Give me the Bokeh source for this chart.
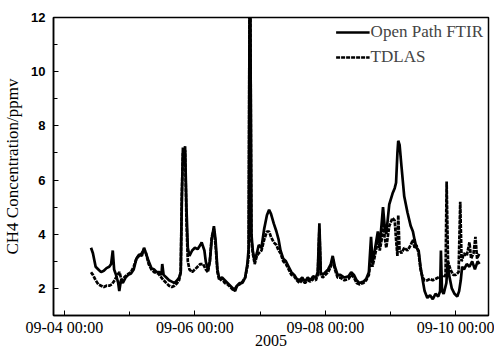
import pandas as pd
from bokeh.plotting import figure
from bokeh.models import FixedTicker, DatetimeTickFormatter, Range1d, Legend, LegendItem
from bokeh.embed import file_html
from bokeh.resources import INLINE

# hours after 2005-09-04 00:00
ftir_hours = [9.8, 10.5, 11.5, 12.5, 13.5, 14.5, 15.5, 16.5, 17.2, 17.8, 18.3, 19.0, 19.8, 20.2, 20.8,
              21.5, 22.5, 23.5, 24.5, 25.5, 26.5, 27.5, 28.5, 29.3, 30.0, 31.0, 32.0, 33.0, 34.0, 35.0,
              35.7, 36.0, 36.5, 37.5, 38.5, 39.5, 40.5, 41.5, 42.2, 42.8, 43.2, 43.6, 44.0, 44.4, 44.9,
              45.4, 46.0, 47.0, 48.0, 49.0, 50.0, 50.5, 51.5, 52.0, 52.8, 53.5, 54.2, 55.0, 55.6, 56.3,
              57.0, 58.0, 59.0, 60.0, 61.0, 62.0, 62.8, 63.5, 64.5, 65.5, 66.5, 67.3, 67.8, 68.1, 68.4,
              68.8, 69.3, 70.0, 70.8, 71.5, 72.5, 73.5, 74.5, 75.3, 76.0, 77.0, 78.0, 78.8, 79.5, 80.5,
              81.5, 82.5, 83.5, 84.5, 85.5, 86.5, 87.5, 88.5, 89.5, 90.5, 91.5, 92.5, 93.2, 93.8, 94.3,
              95.0, 96.0, 97.0, 98.0, 98.7, 99.5, 100.5, 101.5, 103.0, 104.5, 105.5, 106.5, 107.5, 108.5,
              110.0, 111.0, 112.0, 112.8, 113.3, 114.0, 114.8, 115.3, 116.0, 116.7, 117.2, 117.8, 118.4,
              119.5, 120.7, 121.5, 122.0, 122.5, 122.8, 123.3, 124.0, 125.0, 126.2, 127.4, 128.2, 128.8,
              129.5, 130.3, 131.0, 131.8, 132.5, 133.5, 134.5, 135.5, 136.5, 137.5, 138.2, 138.5, 138.9,
              139.5, 140.5, 141.0, 141.5, 142.5, 143.5, 144.5, 145.2, 145.8, 146.3, 147.0, 148.0, 149.0,
              150.0, 151.0, 152.0, 152.7]
ftir_ppmv = [3.5, 3.3, 2.8, 2.7, 2.6, 2.65, 2.75, 2.8, 2.9, 3.4, 2.7, 2.5, 2.2, 1.9, 2.3,
             2.2, 2.4, 2.5, 2.55, 2.7, 3.1, 3.25, 3.2, 3.5, 3.3, 3.0, 2.75, 2.7, 2.6, 2.6,
             2.5, 2.9, 2.5, 2.4, 2.3, 2.25, 2.2, 2.3, 2.4, 2.6, 5.2, 7.2, 6.6, 7.25, 5.0,
             3.5, 3.2, 3.4, 3.5, 3.45, 3.6, 3.7, 3.4, 3.0, 2.7, 3.0, 3.8, 4.3, 3.8, 2.7,
             2.35, 2.4, 2.3, 2.2, 2.1, 2.0, 1.9, 2.1, 2.2, 2.2, 2.4, 2.9, 3.5, 12.4, 12.4,
             4.0, 3.4, 3.0, 3.3, 3.6, 3.5, 4.2, 4.7, 4.9, 4.75, 4.4, 4.1, 3.8, 3.4, 3.1,
             3.0, 2.8, 2.6, 2.5, 2.35, 2.3, 2.4, 2.25, 2.4, 2.3, 2.45, 2.4, 2.6, 4.4, 2.6,
             2.5, 2.6, 2.7, 2.9, 3.2, 2.8, 2.5, 2.5, 2.4, 2.45, 2.6, 2.5, 2.3, 2.2,
             2.25, 2.35, 2.6, 3.9, 3.0, 3.3, 3.8, 4.1, 3.6, 4.4, 5.0, 4.3, 4.0,
             5.1, 5.5, 5.7, 5.9, 7.0, 7.45, 7.3, 6.5, 5.4, 4.8, 4.3, 4.1, 3.8,
             3.5, 3.4, 2.8, 2.3, 1.9, 1.65, 1.75, 1.6, 1.8, 1.7, 1.9, 3.4, 1.9,
             1.8, 2.2, 3.0, 2.5, 2.0, 1.8, 1.7, 1.9, 2.3, 2.8, 2.7, 2.9, 2.8,
             3.0, 2.7, 3.0, 2.9]

tdlas_hours = [9.8, 10.5, 11.5, 12.5, 13.5, 14.5, 15.5, 16.5, 17.5, 18.5, 19.5, 20.3, 21.0, 22.0, 23.0,
               24.5, 25.5, 26.5, 27.5, 28.5, 29.3, 30.0, 31.0, 32.0, 33.0, 34.5, 35.7, 36.5, 37.5, 38.5,
               39.5, 40.5, 41.5, 42.2, 42.8, 43.2, 43.6, 44.0, 44.4, 44.9, 45.4, 46.0, 47.0, 48.0, 49.0,
               50.0, 51.0, 52.0, 52.8, 53.5, 54.2, 55.0, 55.6, 56.3, 57.0, 58.0, 59.0, 60.0, 61.0, 62.0,
               62.8, 63.5, 64.5, 65.5, 66.5, 67.3, 67.8, 68.1, 68.4, 68.8, 69.3, 70.0, 70.8, 71.5, 72.5,
               73.5, 74.5, 75.3, 76.0, 77.0, 78.0, 78.8, 79.5, 80.5, 81.5, 82.5, 83.5, 84.5, 85.5, 86.5,
               87.5, 88.5, 89.5, 90.5, 91.5, 92.5, 93.2, 93.8, 94.3, 95.0, 96.0, 97.0, 98.0, 98.7, 99.5,
               100.5, 101.5, 103.0, 104.5, 105.5, 106.5, 107.5, 108.5, 110.0, 111.0, 112.0, 112.8, 113.3,
               114.0, 114.8, 115.3, 116.0, 116.7, 117.2, 117.8, 118.4, 119.5, 120.7, 121.5, 122.0, 122.5,
               122.8, 123.3, 124.0, 125.0, 126.2, 127.4, 128.2, 128.8, 129.5, 130.3, 131.0, 131.8, 132.5,
               133.5, 134.5, 135.5, 136.5, 137.5, 138.5, 139.5, 140.2, 140.6, 141.1, 142.0, 143.0, 144.0,
               145.0, 145.6, 146.1, 147.0, 148.0, 149.0, 149.6, 150.5, 151.2, 151.8, 152.7]
tdlas_ppmv = [2.6, 2.5, 2.3, 2.15, 2.1, 2.05, 2.1, 2.1, 2.15, 2.3, 2.5, 2.6, 2.3, 2.4, 2.5,
              2.6, 2.8, 3.1, 3.2, 3.3, 3.45, 3.3, 2.9, 2.7, 2.6, 2.55, 2.4, 2.3, 2.2, 2.1,
              2.05, 2.1, 2.2, 2.3, 2.6, 5.5, 7.0, 6.8, 7.1, 4.5, 3.0, 2.7, 2.6, 2.7, 2.8,
              2.9, 2.9, 2.7, 2.6, 3.0, 3.9, 4.2, 3.6, 2.6, 2.3, 2.35, 2.2, 2.15, 2.05, 1.95,
              2.0, 2.1, 2.15, 2.25, 2.4, 2.8, 3.2, 12.4, 12.4, 3.8, 3.3, 2.9, 3.2, 3.3, 3.4,
              3.8, 4.1, 4.1, 3.9, 3.7, 3.6, 3.4, 3.3, 3.0, 2.9, 2.7, 2.5, 2.45, 2.3, 2.2,
              2.3, 2.2, 2.3, 2.25, 2.35, 2.3, 2.5, 4.2, 2.5, 2.4, 2.5, 2.6, 2.8, 3.1, 2.7,
              2.4, 2.4, 2.3, 2.35, 2.5, 2.4, 2.2, 2.15, 2.2, 2.3, 2.5, 3.2, 2.8,
              3.1, 3.5, 3.9, 3.4, 3.8, 4.6, 3.9, 3.5, 4.3, 4.6, 4.5, 3.8, 3.2,
              4.7, 3.4, 3.3, 3.5, 3.4, 3.6, 3.8, 3.5, 3.6, 3.3, 2.7, 2.4, 2.3,
              2.3, 2.35, 2.3, 2.35, 2.4, 2.45, 2.4, 2.5, 5.95, 3.0, 2.7, 2.5, 2.5,
              2.6, 5.2, 3.0, 3.3, 3.2, 3.7, 3.1, 3.3, 3.9, 3.1, 3.3]

x_start = "2005-09-03 20:00"
x_end = "2005-09-10 12:00"
major_days = ["2005-09-04", "2005-09-06", "2005-09-08", "2005-09-10"]
minor_days = ["2005-09-05", "2005-09-07", "2005-09-09"]
y_major = [2, 4, 6, 8, 10, 12]
y_minor = [1, 3, 5, 7, 9, 11]

t0 = pd.Timestamp("2005-09-04 00:00")
ftir_t = [t0 + pd.Timedelta(hours=h) for h in ftir_hours]
tdlas_t = [t0 + pd.Timedelta(hours=h) for h in tdlas_hours]

def ms(s):
    return pd.Timestamp(s).value / 1e6

serif = "Liberation Serif"

p = figure(width=494, height=348, x_axis_type="datetime", output_backend="svg",
           toolbar_location=None,
           x_range=Range1d(ms(x_start), ms(x_end)), y_range=Range1d(1, 12),
           min_border_left=53, min_border_right=6, min_border_top=17, min_border_bottom=33)

r1 = p.line(ftir_t, ftir_ppmv, line_color="black", line_width=2.7)
r2 = p.line(tdlas_t, tdlas_ppmv, line_color="black", line_width=2.7, line_dash="4 1")

p.grid.visible = False
p.outline_line_color = "black"
p.outline_line_width = 1.5
p.background_fill_color = "white"
p.border_fill_color = "white"

xa = p.xaxis[0]
xa.ticker = FixedTicker(ticks=[ms(d) for d in major_days], minor_ticks=[ms(d) for d in minor_days])
fmt = "%m-%d %H:%M"
xa.formatter = DatetimeTickFormatter(days=fmt, hours=fmt, months=fmt, years=fmt,
                                     minutes=fmt, hourmin=fmt, minsec=fmt, seconds=fmt,
                                     milliseconds=fmt, microseconds=fmt)
xa.axis_label = "2005"
xa.axis_label_text_font = serif
xa.axis_label_text_font_style = "normal"
xa.axis_label_text_font_size = "16px"
xa.axis_label_standoff = -4
xa.major_label_text_font = serif
xa.major_label_text_font_size = "16px"
xa.major_label_standoff = 3

ya = p.yaxis[0]
ya.ticker = FixedTicker(ticks=y_major, minor_ticks=y_minor)
ya.axis_label = "CH4 Concentration/ppmv"
ya.axis_label_text_font = serif
ya.axis_label_text_font_style = "normal"
ya.axis_label_text_font_size = "17px"
ya.axis_label_standoff = 6
ya.major_label_text_font = "Liberation Sans"
ya.major_label_text_font_style = "bold"
ya.major_label_text_font_size = "13px"
ya.major_label_standoff = 8

for ax in (xa, ya):
    ax.axis_line_color = "black"
    ax.axis_line_width = 1.5
    ax.major_tick_in = 5
    ax.major_tick_out = 0
    ax.minor_tick_in = 4
    ax.minor_tick_out = 0
    ax.major_tick_line_color = "black"
    ax.minor_tick_line_color = "black"
    ax.major_label_text_color = "black"
    ax.axis_label_text_color = "black"

legend = Legend(items=[LegendItem(label="Open Path FTIR", renderers=[r1]),
                       LegendItem(label="TDLAS", renderers=[r2])],
                location="top_right", border_line_alpha=0, background_fill_alpha=0,
                label_text_font=serif, label_text_font_size="17px",
                glyph_width=34, glyph_height=20, label_height=20, label_standoff=1,
                spacing=5, padding=5, margin=0)
p.add_layout(legend)

open("out.html", "w").write(file_html(p, INLINE))
